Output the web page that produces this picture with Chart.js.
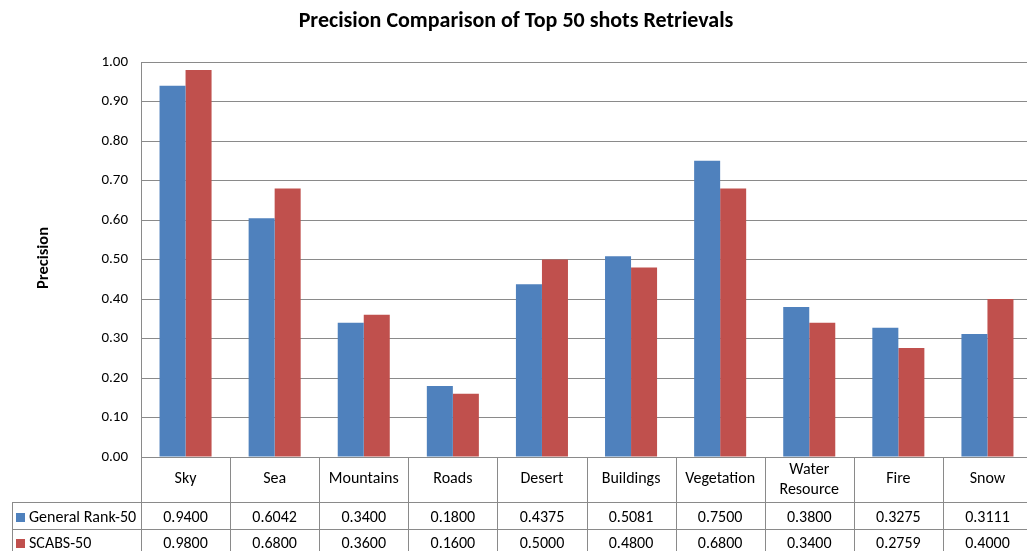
<!DOCTYPE html>
<html>
<head>
<meta charset="utf-8">
<script src="https://cdn.jsdelivr.net/npm/chart.js@4.4.1/dist/chart.umd.min.js"></script>
<style>
html,body{margin:0;padding:0;background:#fff;overflow:hidden;}
#wrap{width:1040px;height:551px;}
</style>
</head>
<body>
<div id="wrap"><canvas id="c" width="1040" height="551"></canvas></div>
<script>
const chartTitle = 'Precision Comparison of Top 50 shots Retrievals';
const yAxisTitle = 'Precision';
const categories = ['Sky','Sea','Mountains','Roads','Desert','Buildings','Vegetation',['Water','Resource'],'Fire','Snow'];
const seriesNames = ['General Rank-50','SCABS-50'];
const generalRank = [0.9400,0.6042,0.3400,0.1800,0.4375,0.5081,0.7500,0.3800,0.3275,0.3111];
const scabs = [0.9800,0.6800,0.3600,0.1600,0.5000,0.4800,0.6800,0.3400,0.2759,0.4000];
const seriesColors = ['#4F81BD','#C0504D'];

const FONT = 'Carlito, Lato, "Liberation Sans", sans-serif';
const LINE = '#8a8a8a';

const tablePlugin = {
  id: 'tablePlugin',
  afterDraw(chart) {
    const ctx = chart.ctx;
    const xs = chart.scales.x;
    const n = categories.length;
    const colW = (xs.right - xs.left) / n;
    const top = chart.chartArea.bottom;
    const row1 = 502.5, row2 = 529.5, bottom = 551;
    ctx.save();
    ctx.fillStyle = '#000';
    ctx.font = 'bold 22px ' + FONT;
    ctx.textAlign = 'center';
    ctx.textBaseline = 'middle';
    ctx.fillText(chartTitle, 516, 21);
    ctx.save();
    ctx.translate(44, 258);
    ctx.rotate(-Math.PI/2);
    ctx.font = 'bold 16.5px ' + FONT;
    ctx.fillText(yAxisTitle, 0, 0);
    ctx.restore();
    ctx.strokeStyle = LINE;
    ctx.lineWidth = 1;
    ctx.beginPath();
    for (let i = 0; i <= n; i++) {
      const x = Math.round(xs.left + colW * i) + 0.5;
      ctx.moveTo(x, top); ctx.lineTo(x, bottom);
    }
    ctx.moveTo(12, row1); ctx.lineTo(xs.right, row1);
    ctx.moveTo(12, row2); ctx.lineTo(xs.right, row2);
    ctx.moveTo(12.5, row1); ctx.lineTo(12.5, bottom);
    ctx.stroke();
    ctx.font = '16px ' + FONT;
    ctx.fillStyle = '#000';
    for (let i = 0; i < n; i++) {
      const cx = xs.getPixelForValue(i);
      const lab = categories[i];
      if (Array.isArray(lab)) {
        ctx.fillText(lab[0], cx, 470);
        ctx.fillText(lab[1], cx, 490);
      } else {
        ctx.fillText(lab, cx, 479);
      }
    }
    const rows = [generalRank, scabs];
    const rowY = [518, 544];
    for (let r = 0; r < rows.length; r++) {
      ctx.fillStyle = seriesColors[r];
      ctx.fillRect(16, rowY[r] - 5, 9, 9);
      ctx.fillStyle = '#000';
      ctx.textAlign = 'left';
      ctx.fillText(seriesNames[r], 29, rowY[r]);
      ctx.textAlign = 'center';
      for (let i = 0; i < n; i++) {
        ctx.fillText(rows[r][i].toFixed(4), xs.getPixelForValue(i), rowY[r]);
      }
    }
    ctx.restore();
  }
};

new Chart(document.getElementById('c'), {
  type: 'bar',
  data: {
    labels: categories,
    datasets: [
      { label: seriesNames[0], data: generalRank, backgroundColor: seriesColors[0] },
      { label: seriesNames[1], data: scabs, backgroundColor: seriesColors[1] }
    ]
  },
  options: {
    responsive: false,
    animation: false,
    devicePixelRatio: 1,
    layout: { padding: { left: 0, top: 62, right: 8, bottom: 0 } },
    datasets: { bar: { categoryPercentage: 0.584, barPercentage: 1.0 } },
    plugins: { legend: { display: false }, tooltip: { enabled: false }, title: { display: false } },
    scales: {
      x: {
        ticks: { display: false },
        grid: { display: false, drawTicks: false },
        border: { display: true, color: LINE },
        afterFit(s) { s.height = 94; }
      },
      y: {
        min: 0, max: 1,
        ticks: { stepSize: 0.1, padding: 13, color: '#000', font: { family: FONT, size: 15 },
                 callback: v => Number(v).toFixed(2) },
        grid: { color: LINE, drawTicks: false },
        border: { display: true, color: LINE },
        afterFit(s) { s.width = 141; }
      }
    }
  },
  plugins: [tablePlugin]
});
</script>
</body>
</html>
